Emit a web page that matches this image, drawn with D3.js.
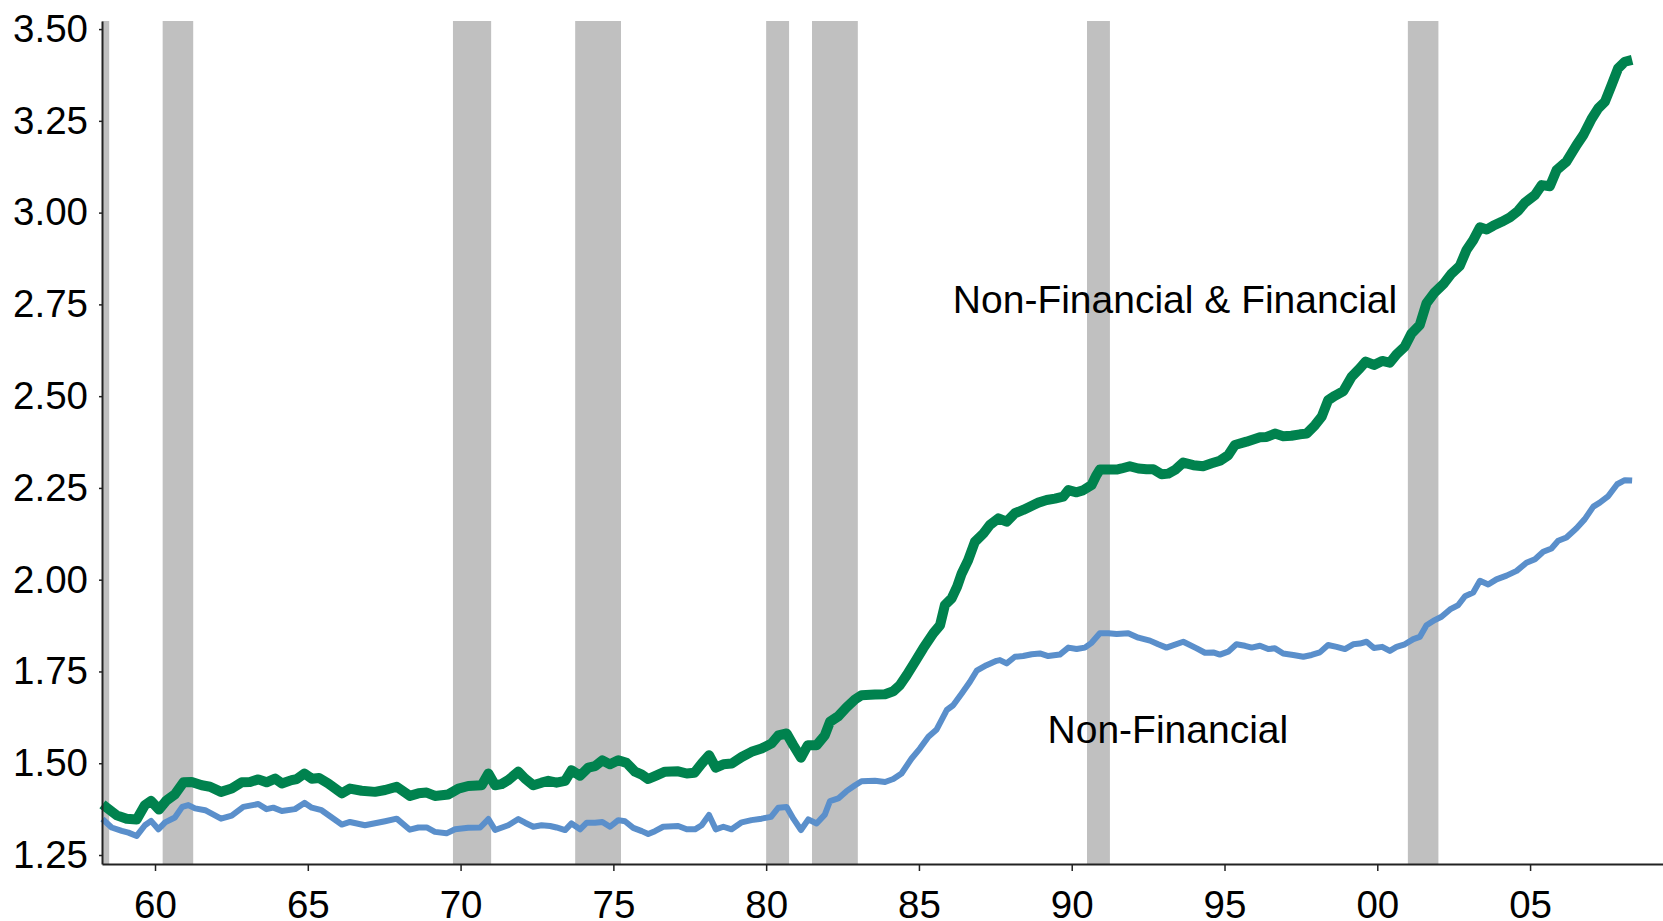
<!DOCTYPE html>
<html>
<head>
<meta charset="utf-8">
<script src="https://cdn.jsdelivr.net/npm/d3@7/dist/d3.min.js"></script>
<style>
  body { margin: 0; background: #fff; }
  svg text { font-family: "Liberation Sans", Arial, sans-serif; fill: #000; }
</style>
</head>
<body>
<script>
// years are counted from 1900 (58.28 = early 1958, 108.34 = early 2008)

// Non-Financial & Financial
var allYears = [58.28, 58.75, 59.07, 59.40, 59.67, 59.87, 60.13, 60.38, 60.65, 60.93,
  61.20, 61.53, 61.80, 62.16, 62.51, 62.84, 63.11, 63.38, 63.65, 63.93,
  64.15, 64.47, 64.64, 64.89, 65.13, 65.37, 65.67, 66.11, 66.38, 66.76,
  67.20, 67.53, 67.91, 68.34, 68.62, 68.89, 69.16, 69.60, 69.93, 70.25,
  70.69, 70.91, 71.13, 71.34, 71.56, 71.89, 72.11, 72.38, 72.65, 72.87,
  73.14, 73.42, 73.63, 73.91, 74.18, 74.40, 74.64, 74.89, 75.16, 75.43,
  75.71, 75.93, 76.14, 76.36, 76.69, 77.12, 77.40, 77.65, 77.89, 78.13,
  78.35, 78.60, 78.87, 79.20, 79.52, 79.85, 80.18, 80.40, 80.67, 80.89,
  81.14, 81.36, 81.65, 81.92, 82.09, 82.36, 82.63, 82.91, 83.12, 83.56,
  83.89, 84.16, 84.38, 84.60, 84.87, 85.14, 85.47, 85.69, 85.85, 86.07,
  86.25, 86.40, 86.61, 86.83, 87.11, 87.32, 87.60, 87.87, 88.14, 88.41,
  88.63, 88.91, 89.18, 89.45, 89.72, 89.89, 90.16, 90.38, 90.65, 90.81,
  90.92, 91.20, 91.47, 91.63, 91.90, 92.18, 92.45, 92.67, 92.94, 93.16,
  93.38, 93.65, 93.98, 94.30, 94.58, 94.85, 95.12, 95.34, 95.72, 96.16,
  96.38, 96.65, 96.92, 97.19, 97.47, 97.69, 97.96, 98.18, 98.39, 98.61,
  98.89, 99.16, 99.43, 99.62, 99.89, 100.16, 100.41, 100.63, 100.90, 101.12,
  101.39, 101.61, 101.88, 102.16, 102.43, 102.70, 102.92, 103.14, 103.36, 103.58,
  103.79, 104.07, 104.34, 104.61, 104.83, 105.16, 105.38, 105.65, 105.87, 106.19,
  106.52, 106.74, 107.01, 107.23, 107.45, 107.67, 107.88, 108.10, 108.34];
var allValues = [1.388, 1.358, 1.349, 1.347, 1.386, 1.397, 1.374, 1.399, 1.415, 1.448,
  1.449, 1.440, 1.436, 1.422, 1.431, 1.448, 1.449, 1.456, 1.448, 1.458,
  1.445, 1.454, 1.457, 1.472, 1.458, 1.460, 1.445, 1.418, 1.431, 1.425,
  1.422, 1.427, 1.436, 1.411, 1.418, 1.420, 1.411, 1.415, 1.431, 1.438,
  1.440, 1.472, 1.440, 1.443, 1.454, 1.477, 1.458, 1.440, 1.447, 1.452,
  1.447, 1.452, 1.481, 1.466, 1.488, 1.492, 1.508, 1.497, 1.508, 1.501,
  1.477, 1.469, 1.457, 1.465, 1.477, 1.478, 1.472, 1.474, 1.499, 1.522,
  1.488, 1.497, 1.499, 1.517, 1.531, 1.540, 1.554, 1.576, 1.581, 1.549,
  1.515, 1.549, 1.549, 1.576, 1.613, 1.628, 1.652, 1.674, 1.685, 1.687,
  1.688, 1.696, 1.713, 1.740, 1.776, 1.813, 1.854, 1.876, 1.931, 1.949,
  1.981, 2.017, 2.053, 2.103, 2.126, 2.149, 2.167, 2.158, 2.181, 2.190,
  2.199, 2.210, 2.217, 2.221, 2.226, 2.244, 2.238, 2.244, 2.258, 2.285,
  2.300, 2.300, 2.300, 2.303, 2.309, 2.303, 2.301, 2.301, 2.287, 2.289,
  2.299, 2.319, 2.312, 2.309, 2.317, 2.324, 2.339, 2.367, 2.376, 2.388,
  2.389, 2.398, 2.391, 2.392, 2.396, 2.398, 2.421, 2.444, 2.489, 2.501,
  2.514, 2.553, 2.576, 2.594, 2.585, 2.596, 2.591, 2.614, 2.635, 2.671,
  2.694, 2.753, 2.783, 2.805, 2.834, 2.855, 2.898, 2.925, 2.960, 2.954,
  2.964, 2.975, 2.987, 3.005, 3.027, 3.048, 3.075, 3.072, 3.116, 3.139,
  3.184, 3.211, 3.255, 3.284, 3.302, 3.348, 3.393, 3.411, 3.416];

// Non-Financial
var nfYears = [58.28, 58.58, 58.91, 59.13, 59.40, 59.67, 59.87, 60.11, 60.33, 60.65,
  60.89, 61.09, 61.31, 61.64, 62.16, 62.51, 62.89, 63.38, 63.65, 63.87,
  64.15, 64.58, 64.89, 65.13, 65.45, 66.11, 66.38, 66.87, 67.53, 67.91,
  68.34, 68.62, 68.89, 69.16, 69.54, 69.82, 70.25, 70.64, 70.91, 71.13,
  71.56, 71.89, 72.11, 72.38, 72.65, 72.93, 73.14, 73.42, 73.63, 73.91,
  74.13, 74.40, 74.64, 74.89, 75.16, 75.38, 75.65, 75.93, 76.14, 76.36,
  76.63, 77.12, 77.40, 77.67, 77.89, 78.13, 78.35, 78.60, 78.87, 79.20,
  79.52, 79.85, 80.16, 80.40, 80.67, 80.89, 81.14, 81.38, 81.65, 81.92,
  82.09, 82.36, 82.63, 82.91, 83.12, 83.56, 83.89, 84.16, 84.43, 84.76,
  85.03, 85.31, 85.58, 85.91, 86.12, 86.40, 86.67, 86.89, 87.21, 87.54,
  87.65, 87.87, 88.14, 88.41, 88.69, 88.96, 89.23, 89.61, 89.89, 90.16,
  90.43, 90.65, 90.92, 91.20, 91.47, 91.85, 92.18, 92.56, 92.83, 93.10,
  93.65, 94.09, 94.36, 94.63, 94.85, 95.12, 95.39, 95.67, 95.89, 96.16,
  96.43, 96.65, 96.92, 97.25, 97.58, 97.85, 98.12, 98.39, 98.67, 98.94,
  99.21, 99.43, 99.65, 99.89, 100.16, 100.41, 100.63, 100.90, 101.18, 101.39,
  101.61, 101.88, 102.10, 102.38, 102.65, 102.87, 103.14, 103.36, 103.63, 103.90,
  104.23, 104.56, 104.88, 105.16, 105.43, 105.70, 105.92, 106.19, 106.52, 106.79,
  107.07, 107.28, 107.56, 107.85, 108.10, 108.34];
var nfValues = [1.348, 1.325, 1.316, 1.311, 1.302, 1.331, 1.343, 1.320, 1.339, 1.352,
  1.381, 1.386, 1.377, 1.372, 1.349, 1.357, 1.381, 1.389, 1.375, 1.379,
  1.370, 1.375, 1.392, 1.379, 1.372, 1.333, 1.340, 1.331, 1.342, 1.349,
  1.319, 1.325, 1.325, 1.313, 1.309, 1.320, 1.324, 1.325, 1.348, 1.318,
  1.331, 1.348, 1.338, 1.327, 1.331, 1.329, 1.325, 1.318, 1.336, 1.320,
  1.338, 1.338, 1.340, 1.327, 1.345, 1.342, 1.324, 1.315, 1.307, 1.315,
  1.327, 1.329, 1.320, 1.320, 1.331, 1.359, 1.320, 1.327, 1.320, 1.339,
  1.345, 1.349, 1.354, 1.379, 1.381, 1.349, 1.318, 1.347, 1.336, 1.360,
  1.397, 1.404, 1.424, 1.440, 1.451, 1.452, 1.449, 1.457, 1.472, 1.513,
  1.540, 1.572, 1.592, 1.645, 1.658, 1.690, 1.722, 1.752, 1.767, 1.779,
  1.781, 1.772, 1.790, 1.792, 1.797, 1.799, 1.792, 1.796, 1.815, 1.811,
  1.815, 1.828, 1.854, 1.854, 1.852, 1.854, 1.842, 1.834, 1.824, 1.815,
  1.831, 1.813, 1.801, 1.802, 1.796, 1.804, 1.824, 1.820, 1.815, 1.820,
  1.811, 1.813, 1.799, 1.795, 1.790, 1.795, 1.802, 1.822, 1.817, 1.811,
  1.824, 1.826, 1.831, 1.814, 1.817, 1.806, 1.817, 1.824, 1.838, 1.844,
  1.876, 1.890, 1.899, 1.919, 1.931, 1.955, 1.965, 1.997, 1.987, 2.001,
  2.011, 2.024, 2.046, 2.056, 2.076, 2.085, 2.106, 2.115, 2.140, 2.165,
  2.199, 2.210, 2.228, 2.260, 2.271, 2.270];

// recessions (shaded)
var recStart = [57.50, 60.25, 69.75, 73.75, 80.00, 81.50, 90.50, 101.00];
var recEnd   = [58.50, 61.25, 71.00, 75.25, 80.75, 83.00, 91.25, 102.00];

// axis ticks
var xTicks = [60, 65, 70, 75, 80, 85, 90, 95, 100, 105];
var xTickLabels = ["60", "65", "70", "75", "80", "85", "90", "95", "00", "05"];
var yTicks = [1.25, 1.50, 1.75, 2.00, 2.25, 2.50, 2.75, 3.00, 3.25, 3.50];

// series labels
var labelText = ["Non-Financial & Financial", "Non-Financial"];
var labelYear = [86.11, 89.21];
var labelValue = [2.726, 1.555];

var margin = {top: 21, right: 0, bottom: 57, left: 102},
    width = 1663 - margin.left - margin.right,
    height = 921 - margin.top - margin.bottom;

var x = d3.scaleLinear().domain([58.265, 109.35]).range([0, width]);
var y = d3.scaleLinear().domain([1.2255, 3.522]).range([height, 0]);

var svg = d3.select("body").append("svg")
    .attr("width", width + margin.left + margin.right)
    .attr("height", height + margin.top + margin.bottom)
  .append("g")
    .attr("transform", "translate(" + margin.left + "," + margin.top + ")");

// recession bars
svg.selectAll("rect.rec")
    .data(d3.zip(recStart, recEnd))
  .enter().append("rect")
    .attr("class", "rec")
    .attr("x", function(d) { return x(Math.max(d[0], x.domain()[0])); })
    .attr("width", function(d) { return x(d[1]) - x(Math.max(d[0], x.domain()[0])); })
    .attr("y", 0)
    .attr("height", height)
    .attr("fill", "#c0c0c0");

var line = d3.line()
    .x(function(d) { return x(d[0]); })
    .y(function(d) { return y(d[1]); });

svg.append("path")
    .datum(d3.zip(nfYears, nfValues))
    .attr("fill", "none")
    .attr("stroke", "#5a8fcb")
    .attr("stroke-width", 6)
    .attr("stroke-linejoin", "round")
    .attr("d", line);

svg.append("path")
    .datum(d3.zip(allYears, allValues))
    .attr("fill", "none")
    .attr("stroke", "#00824e")
    .attr("stroke-width", 10)
    .attr("stroke-linejoin", "round")
    .attr("d", line);

// series labels
svg.selectAll("text.lbl")
    .data(d3.range(labelText.length))
  .enter().append("text")
    .attr("class", "lbl")
    .attr("x", function(i) { return x(labelYear[i]); })
    .attr("y", function(i) { return y(labelValue[i]); })
    .style("font-size", "39px")
    .text(function(i) { return labelText[i]; });

// x axis
var gx = svg.append("g")
    .attr("transform", "translate(0," + height + ")")
    .call(d3.axisBottom(x)
      .tickValues(xTicks)
      .tickFormat(function(d, i) { return xTickLabels[i]; })
      .tickSize(7).tickSizeOuter(0).tickPadding(20));

// y axis
var gy = svg.append("g")
    .call(d3.axisLeft(y)
      .tickValues(yTicks)
      .tickFormat(d3.format(".2f"))
      .tickSize(3).tickSizeOuter(0).tickPadding(11));

[gx, gy].forEach(function(g) {
  g.select(".domain").attr("stroke", "#222").attr("stroke-width", 2);
  g.selectAll(".tick line").attr("stroke", "#222").attr("stroke-width", 1.5);
  g.selectAll(".tick text").style("font-size", "38.5px").attr("fill", "#000");
});
</script>
</body>
</html>
